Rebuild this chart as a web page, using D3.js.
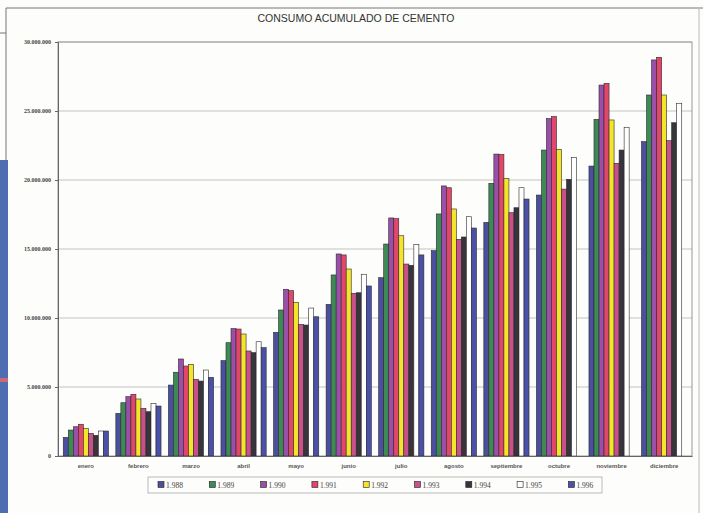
<!DOCTYPE html>
<html>
<head>
<meta charset="utf-8">
<script src="https://cdn.jsdelivr.net/npm/d3@7"></script>
<style>
  html, body { margin: 0; padding: 0; background: #fdfdfb; }
  svg { display: block; }
</style>
</head>
<body>
<svg id="chart" width="703" height="513"></svg>
<script>
// Months along the x axis
const months = ["enero", "febrero", "marzo", "abril", "mayo", "junio",
  "julio", "agosto", "septiembre", "octubre", "noviembre", "diciembre"];

// Series (years) and their legend labels
const years = ["1988", "1989", "1990", "1991", "1992", "1993", "1994", "1995", "1996"];
const yearLabels = ["1.988", "1.989", "1.990", "1.991", "1.992", "1.993", "1.994", "1.995", "1.996"];

// Accumulated cement consumption per month (tonnes)
const v1988 = [1350000, 3090000, 5140000, 6910000, 8960000, 10990000, 12920000, 14880000, 16930000, 18910000, 21010000, 22780000];
const v1989 = [1880000, 3860000, 6070000, 8210000, 10580000, 13120000, 15360000, 17540000, 19760000, 22170000, 24400000, 26160000];
const v1990 = [2120000, 4300000, 7030000, 9230000, 12080000, 14640000, 17250000, 19570000, 21880000, 24450000, 26880000, 28700000];
const v1991 = [2300000, 4470000, 6520000, 9200000, 11980000, 14570000, 17200000, 19440000, 21850000, 24600000, 27000000, 28890000];
const v1992 = [1980000, 4130000, 6640000, 8840000, 11140000, 13550000, 15960000, 17900000, 20120000, 22220000, 24350000, 26160000];
const v1993 = [1640000, 3450000, 5560000, 7610000, 9540000, 11790000, 13910000, 15700000, 17630000, 19340000, 21210000, 22850000];
const v1994 = [1500000, 3210000, 5430000, 7490000, 9490000, 11830000, 13820000, 15870000, 17990000, 20050000, 22170000, 24150000];
const v1995 = [1810000, 3790000, 6230000, 8280000, 10720000, 13170000, 15340000, 17340000, 19440000, 21640000, 23820000, 25560000];
const v1996 = [1810000, 3620000, 5700000, 7850000, 10090000, 12320000, 14570000, 16520000, 18620000, null, null, null];

// Y axis tick values
const yTicks = [0, 5000000, 10000000, 15000000, 20000000, 25000000, 30000000];

const seriesValues = [v1988, v1989, v1990, v1991, v1992, v1993, v1994, v1995, v1996];
const colors = ["#4c4f9f", "#3e8a56", "#9b4fa8", "#e2466a", "#f4e42c", "#c9508b", "#37343c", "#ffffff", "#4b50a8"];

const svg = d3.select("#chart");

// Page frame and left edge strip
svg.append("rect").attr("x", 0).attr("y", 160).attr("width", 8).attr("height", 353).attr("fill", "#4f6eb2");
svg.append("rect").attr("x", 0).attr("y", 378).attr("width", 8).attr("height", 4).attr("fill", "#c86a78");
svg.append("path")
  .attr("d", "M6,160 V8 H703")
  .attr("fill", "none").attr("stroke", "#777").attr("stroke-width", 1);
svg.append("line").attr("x1", 0).attr("x2", 6).attr("y1", 33).attr("y2", 33)
  .attr("stroke", "#777");
svg.append("line").attr("x1", 699).attr("x2", 699).attr("y1", 8).attr("y2", 513)
  .attr("stroke", "#bbb");

// Title
svg.append("text")
  .attr("x", 356).attr("y", 22)
  .attr("text-anchor", "middle")
  .attr("font-family", "Liberation Sans, Arial, sans-serif")
  .attr("font-size", 10.5)
  .attr("fill", "#333")
  .text("CONSUMO ACUMULADO DE CEMENTO");

const plot = { left: 58, right: 692, top: 42, bottom: 456 };

const x0 = d3.scaleBand()
  .domain(months)
  .range([plot.left, plot.right])
  .paddingInner(0.14)
  .paddingOuter(0.1);

const x1 = d3.scaleBand()
  .domain(years)
  .range([0, x0.bandwidth()])
  .padding(0);

const y = d3.scaleLinear()
  .domain([0, 30000000])
  .range([plot.bottom, plot.top]);

const es = d3.formatLocale({ decimal: ",", thousands: ".", grouping: [3], currency: ["", ""] });
const fmt = es.format(",");

// Gridlines
svg.append("g")
  .selectAll("line")
  .data(yTicks.filter(d => d > 0))
  .join("line")
  .attr("x1", plot.left).attr("x2", plot.right)
  .attr("y1", d => y(d)).attr("y2", d => y(d))
  .attr("stroke", "#b4b4b4").attr("stroke-width", 0.8);

// Plot area border
svg.append("rect")
  .attr("x", plot.left).attr("y", plot.top)
  .attr("width", plot.right - plot.left).attr("height", plot.bottom - plot.top)
  .attr("fill", "none").attr("stroke", "#999").attr("stroke-width", 1);

// Bars
const groups = svg.append("g")
  .selectAll("g")
  .data(months.map((m, i) => ({ month: m, i })))
  .join("g")
  .attr("transform", d => `translate(${x0(d.month)},0)`);

groups.selectAll("rect")
  .data(d => years.map((yr, s) => ({ yr, s, v: seriesValues[s][d.i] })).filter(e => e.v != null))
  .join("rect")
  .attr("x", d => x1(d.yr))
  .attr("y", d => y(d.v))
  .attr("width", x1.bandwidth())
  .attr("height", d => y(0) - y(d.v))
  .attr("fill", d => colors[d.s])
  .attr("stroke", "#2a2a2a")
  .attr("stroke-width", 0.6);

// Y axis
const yAxis = svg.append("g")
  .attr("transform", `translate(${plot.left},0)`)
  .call(d3.axisLeft(y).tickValues(yTicks).tickFormat(fmt).tickSize(3).tickPadding(4));
yAxis.select(".domain").attr("stroke", "#666");
yAxis.selectAll(".tick line").attr("stroke", "#666");
yAxis.selectAll("text")
  .attr("font-family", "Liberation Serif, Times New Roman, serif")
  .attr("font-weight", "bold")
  .attr("font-size", 6)
  .attr("fill", "#444");

// X axis
const xAxis = svg.append("g")
  .attr("transform", `translate(0,${plot.bottom})`)
  .call(d3.axisBottom(x0).tickSize(0).tickPadding(8));
xAxis.select(".domain").attr("stroke", "#666");
xAxis.selectAll("text")
  .attr("font-family", "Liberation Sans, Arial, sans-serif")
  .attr("font-weight", "bold")
  .attr("font-size", 6)
  .attr("fill", "#555");

// Legend
const legend = svg.append("g");
legend.append("rect")
  .attr("x", 148).attr("y", 477).attr("width", 454).attr("height", 16)
  .attr("fill", "none").attr("stroke", "#aaa").attr("stroke-width", 0.8);
const items = legend.selectAll("g")
  .data(years.map((yr, s) => ({ yr, s })))
  .join("g")
  .attr("transform", d => `translate(${158 + d.s * 51.3},485)`);
items.append("rect")
  .attr("x", 0).attr("y", -3.5).attr("width", 6).attr("height", 6)
  .attr("fill", d => colors[d.s])
  .attr("stroke", "#222").attr("stroke-width", 0.6);
items.append("text")
  .attr("x", 8).attr("y", 2.5)
  .attr("font-family", "Liberation Serif, Times New Roman, serif")
  .attr("font-size", 7.5)
  .attr("fill", "#444")
  .text(d => yearLabels[d.s]);
</script>
</body>
</html>
